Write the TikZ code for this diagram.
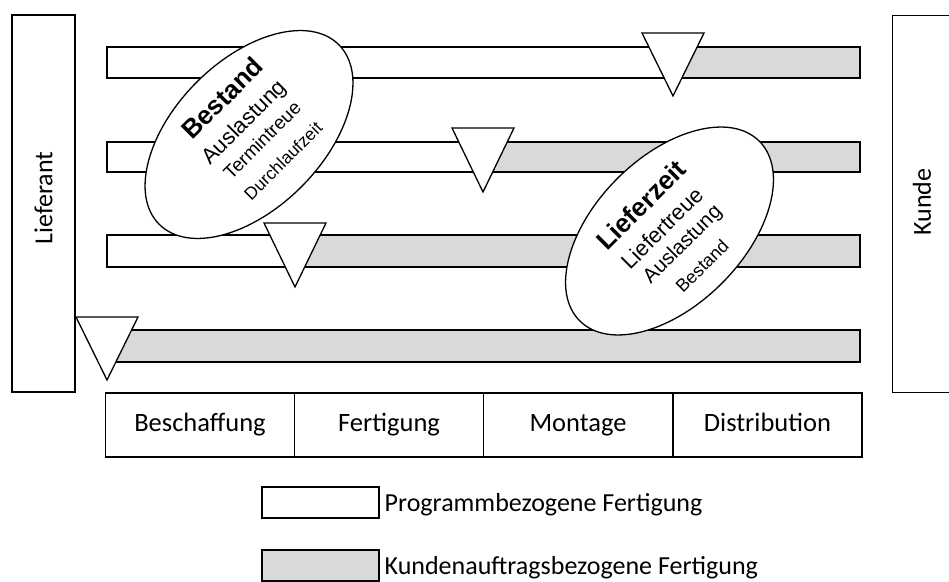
\documentclass[tikz,border=0pt]{standalone}
\usepackage{fontspec}
\setmainfont{Carlito}
\newfontfamily\arialfont{Liberation Sans}
\usetikzlibrary{shapes.geometric}
\definecolor{kgray}{HTML}{D9D9D9}

\begin{document}
\begin{tikzpicture}[x=1pt,y=-1pt,line width=1.3pt,
  sidebox/.style={draw=black,fill=white,minimum width=63pt,minimum height=377pt,inner sep=0pt},
  sidetext/.style={rotate=90,inner sep=0pt,font=\fontsize{26}{28}\selectfont},
  phase/.style={draw=black,fill=white,minimum width=189pt,minimum height=64pt,inner sep=0pt},
  phasetext/.style={anchor=base,inner sep=0pt,font=\fontsize{26.5}{28}\selectfont},
  legbox/.style={draw=black,minimum width=117pt,minimum height=31pt,inner sep=0pt},
  legtext/.style={anchor=base west,inner sep=0pt,font=\fontsize{26}{28}\selectfont},
  prog/.style={draw=black,fill=white},
  kund/.style={draw=black,fill=kgray},
  decoupling/.style={draw=black,fill=white,line join=miter},
  kpi/.style={draw=black,fill=white,ellipse,rotate=45,minimum width=254pt,minimum height=148pt,inner sep=0pt},
  kpitext/.style={rotate=45,inner sep=0pt,font=\arialfont\fontsize{#1}{#1}\selectfont},
]
\useasboundingbox (0,0) rectangle (949,581);
\clip (0,0) rectangle (949,581);

% supplier and customer
\node[sidebox] (lief) at (43.5,203.5) {};
\node[sidetext] (lieftext) at (43.5,198) {Lieferant};
\node[sidebox,anchor=north west] (kunde) at (892,15) {};
\node[sidetext] (kundetext) at (922,202) {Kunde};

% order penetration bars: make-to-stock part, then make-to-order part
\draw[prog] (107,47) rectangle (673,78);
\draw[kund] (673,47) rectangle (860,78);
\draw[prog] (107,142) rectangle (483,172);
\draw[kund] (483,142) rectangle (860,172);
\draw[prog] (107,235) rectangle (295,267);
\draw[kund] (295,235) rectangle (860,267);
\draw[kund] (107,330) rectangle (860,362);

% key figures
\node[kpi] (kpiA) at (249,134.5) {};
\node[kpitext=26] (kA1) at (222,98) {\bfseries Bestand};
\node[kpitext=22] (kA2) at (245,123) {Auslastung};
\node[kpitext=19] (kA3) at (262,140) {Termintreue};
\node[kpitext=17.5] (kA4) at (283,161) {Durchlaufzeit};

\node[kpi] (kpiB) at (669.5,231) {};
\node[kpitext=26] (kB1) at (641,205) {\bfseries Lieferzeit};
\node[kpitext=22] (kB2) at (662,228) {Liefertreue};
\node[kpitext=20.5] (kB3) at (683,245) {Auslastung};
\node[kpitext=18] (kB4) at (702,266) {Bestand};

% decoupling points
\draw[decoupling] (642,33) -- (704,33) -- (673,96) -- cycle;
\draw[decoupling] (452,128) -- (514,128) -- (483,192) -- cycle;
\draw[decoupling] (264,223) -- (326,223) -- (295,287) -- cycle;
\draw[decoupling] (76,317) -- (138,317) -- (107,380) -- cycle;

% value chain phases
\node[phase] (p1) at (200,425) {};
\node[phase] (p2) at (389,425) {};
\node[phase] (p3) at (578,425) {};
\node[phase] (p4) at (767.5,425) {};
\node[phasetext] (p1t) at (200,431) {Beschaffung};
\node[phasetext] (p2t) at (389,431) {Fertigung};
\node[phasetext] (p3t) at (578,431) {Montage};
\node[phasetext] (p4t) at (767.5,431) {Distribution};

% legend
\node[legbox,fill=white] (l1) at (320.5,502.5) {};
\node[legtext] (l1t) at (384,511) {Programmbezogene Fertigung};
\node[legbox,fill=kgray] (l2) at (320.5,565.5) {};
\node[legtext] (l2t) at (384,574) {Kundenauftragsbezogene Fertigung};
\end{tikzpicture}
\end{document}
